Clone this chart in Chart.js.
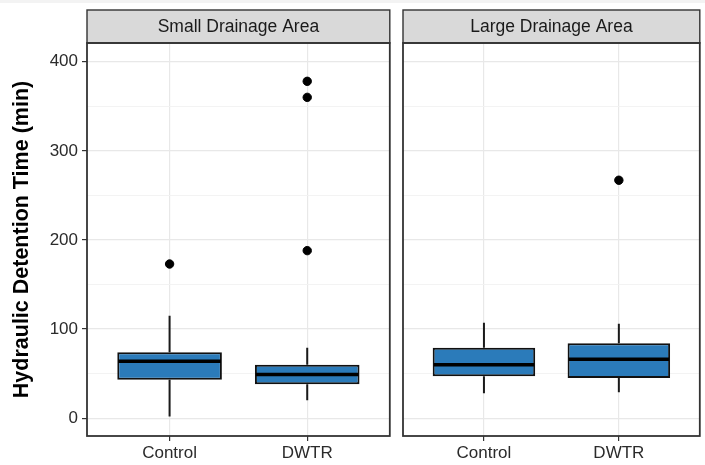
<!DOCTYPE html>
<html>
<head>
<meta charset="utf-8">
<script src="https://cdn.jsdelivr.net/npm/chart.js@4.4.0/dist/chart.umd.min.js"></script>
<style>
  body { margin: 0; background: #fff; }
  #wrap { position: relative; width: 705px; height: 465px; }
  #band { position: absolute; left: 0; top: 0; width: 705px; height: 3px; background: #f3f3f3; }
  canvas { position: absolute; top: 0; }
</style>
</head>
<body>
<div id="wrap">
  <canvas id="smallChart" width="395" height="465" style="left:0"></canvas>
  <canvas id="largeChart" width="310" height="465" style="left:395px"></canvas>
  <div id="band"></div>
</div>
<script>
// categories
const groups = ['Control', 'DWTR'];

// Small Drainage Area (min)
const smallLow = [2, 20];
const smallQ1 = [43, 38];
const smallMedian = [64, 49];
const smallQ3 = [74, 60];
const smallHigh = [115, 79];
const smallOutliers = [[173], [378, 360, 188]];

// Large Drainage Area (min)
const largeLow = [28, 29];
const largeQ1 = [47, 45];
const largeMedian = [60, 66];
const largeQ3 = [79, 84];
const largeHigh = [107, 106];
const largeOutliers = [[], [267]];

// y ticks (major every 100, minor grid every 50)
const yTicks = [0, 50, 100, 150, 200, 250, 300, 350, 400];

const FONT = "'Liberation Sans', Arial, sans-serif";

// whiskers, medians, panel border and strip header
const boxPlugin = {
  id: 'boxPlugin',
  beforeDatasetsDraw(chart) {
    const ctx = chart.ctx;
    const y = chart.scales.y;
    const s = chart.options.plugins.boxPlugin;
    const bars = chart.getDatasetMeta(0).data;
    ctx.save();
    ctx.strokeStyle = '#1a1a1a';
    ctx.lineWidth = 2;
    bars.forEach((bar, i) => {
      ctx.beginPath();
      ctx.moveTo(bar.x, y.getPixelForValue(s.q3[i]));
      ctx.lineTo(bar.x, y.getPixelForValue(s.high[i]));
      ctx.moveTo(bar.x, y.getPixelForValue(s.q1[i]));
      ctx.lineTo(bar.x, y.getPixelForValue(s.low[i]));
      ctx.stroke();
    });
    ctx.restore();
  },
  afterDatasetsDraw(chart) {
    const ctx = chart.ctx;
    const y = chart.scales.y;
    const s = chart.options.plugins.boxPlugin;
    const bars = chart.getDatasetMeta(0).data;
    ctx.save();
    ctx.strokeStyle = '#000';
    ctx.lineWidth = 3.5;
    bars.forEach((bar, i) => {
      const py = y.getPixelForValue(s.median[i]);
      ctx.beginPath();
      ctx.moveTo(bar.x - bar.width / 2 + 1, py);
      ctx.lineTo(bar.x + bar.width / 2 - 1, py);
      ctx.stroke();
    });
    ctx.restore();
  },
  afterDraw(chart) {
    const ctx = chart.ctx;
    const a = chart.chartArea;
    const s = chart.options.plugins.boxPlugin;
    ctx.save();
    // strip
    ctx.fillStyle = '#d9d9d9';
    ctx.fillRect(a.left, 10, a.right - a.left, a.top - 10);
    ctx.strokeStyle = '#333';
    ctx.lineWidth = 1.4;
    ctx.strokeRect(a.left, 10, a.right - a.left, a.top - 10);
    ctx.fillStyle = '#1a1a1a';
    ctx.font = '17.5px ' + FONT;
    ctx.textAlign = 'center';
    ctx.textBaseline = 'middle';
    ctx.fillText(s.title, (a.left + a.right) / 2, (10 + a.top) / 2 + 1);
    // panel border
    ctx.lineWidth = 1.8;
    ctx.strokeRect(a.left, a.top, a.right - a.left, a.bottom - a.top);
    ctx.restore();
  }
};

function makeChart(id, title, low, q1, median, q3, high, outliers, showY, padRight) {
  const boxes = groups.map((g, i) => ({ x: i + 1, y: [q1[i], q3[i]] }));
  const points = [];
  outliers.forEach((vals, i) => vals.forEach(v => points.push({ x: i + 1, y: v })));

  return new Chart(document.getElementById(id), {
    type: 'bar',
    data: {
      datasets: [{
        type: 'bar',
        data: boxes,
        backgroundColor: '#2b7bba',
        borderColor: '#111',
        borderWidth: 2,
        borderSkipped: false,
        barPercentage: 0.76,
        categoryPercentage: 1,
        order: 2
      }, {
        type: 'scatter',
        data: points,
        backgroundColor: '#000',
        borderColor: '#000',
        pointRadius: 4.2,
        order: 1
      }]
    },
    options: {
      responsive: false,
      animation: false,
      layout: { padding: { top: 43, right: padRight, left: 0, bottom: 0 } },
      plugins: {
        legend: { display: false },
        tooltip: { enabled: false },
        boxPlugin: { title: title, low: low, q1: q1, median: median, q3: q3, high: high }
      },
      scales: {
        x: {
          type: 'linear',
          offset: false,
          min: 0.4,
          max: 2.6,
          afterBuildTicks: sc => { sc.ticks = groups.map((g, i) => ({ value: i + 1 })); },
          afterFit: sc => { sc.height = 29; },
          ticks: {
            callback: v => groups[v - 1],
            color: '#2b2b2b',
            font: { family: FONT, size: 17 },
            padding: 2,
            maxRotation: 0
          },
          grid: { offset: false, color: '#e8e8e8', lineWidth: 1.2, tickColor: '#333', tickLength: 5 },
          border: { display: false }
        },
        y: {
          min: -20,
          max: 421,
          afterBuildTicks: sc => { sc.ticks = yTicks.map(v => ({ value: v })); },
          afterFit: sc => { sc.width = showY ? 87 : 8; },
          ticks: {
            display: showY,
            callback: v => (v % 100 === 0 ? v : ''),
            color: '#2b2b2b',
            font: { family: FONT, size: 17 },
            padding: 4
          },
          grid: {
            color: c => (c.tick && c.tick.value % 100 === 0 ? '#e8e8e8' : '#f2f2f2'),
            lineWidth: c => (c.tick && c.tick.value % 100 === 0 ? 1.2 : 0.9),
            tickColor: c => (c.tick && c.tick.value % 100 === 0 ? '#333' : 'rgba(0,0,0,0)'),
            drawTicks: showY,
            tickLength: 5
          },
          border: { display: false },
          title: {
            display: showY,
            text: 'Hydraulic Detention Time (min)',
            color: '#000',
            font: { family: FONT, size: 21.5, weight: 'bold' },
            padding: { top: 9, bottom: 0 }
          }
        }
      }
    },
    plugins: [boxPlugin]
  });
}

const smallChart = makeChart('smallChart', 'Small Drainage Area',
  smallLow, smallQ1, smallMedian, smallQ3, smallHigh, smallOutliers, true, 3);
const largeChart = makeChart('largeChart', 'Large Drainage Area',
  largeLow, largeQ1, largeMedian, largeQ3, largeHigh, largeOutliers, false, 1);
</script>
</body>
</html>
